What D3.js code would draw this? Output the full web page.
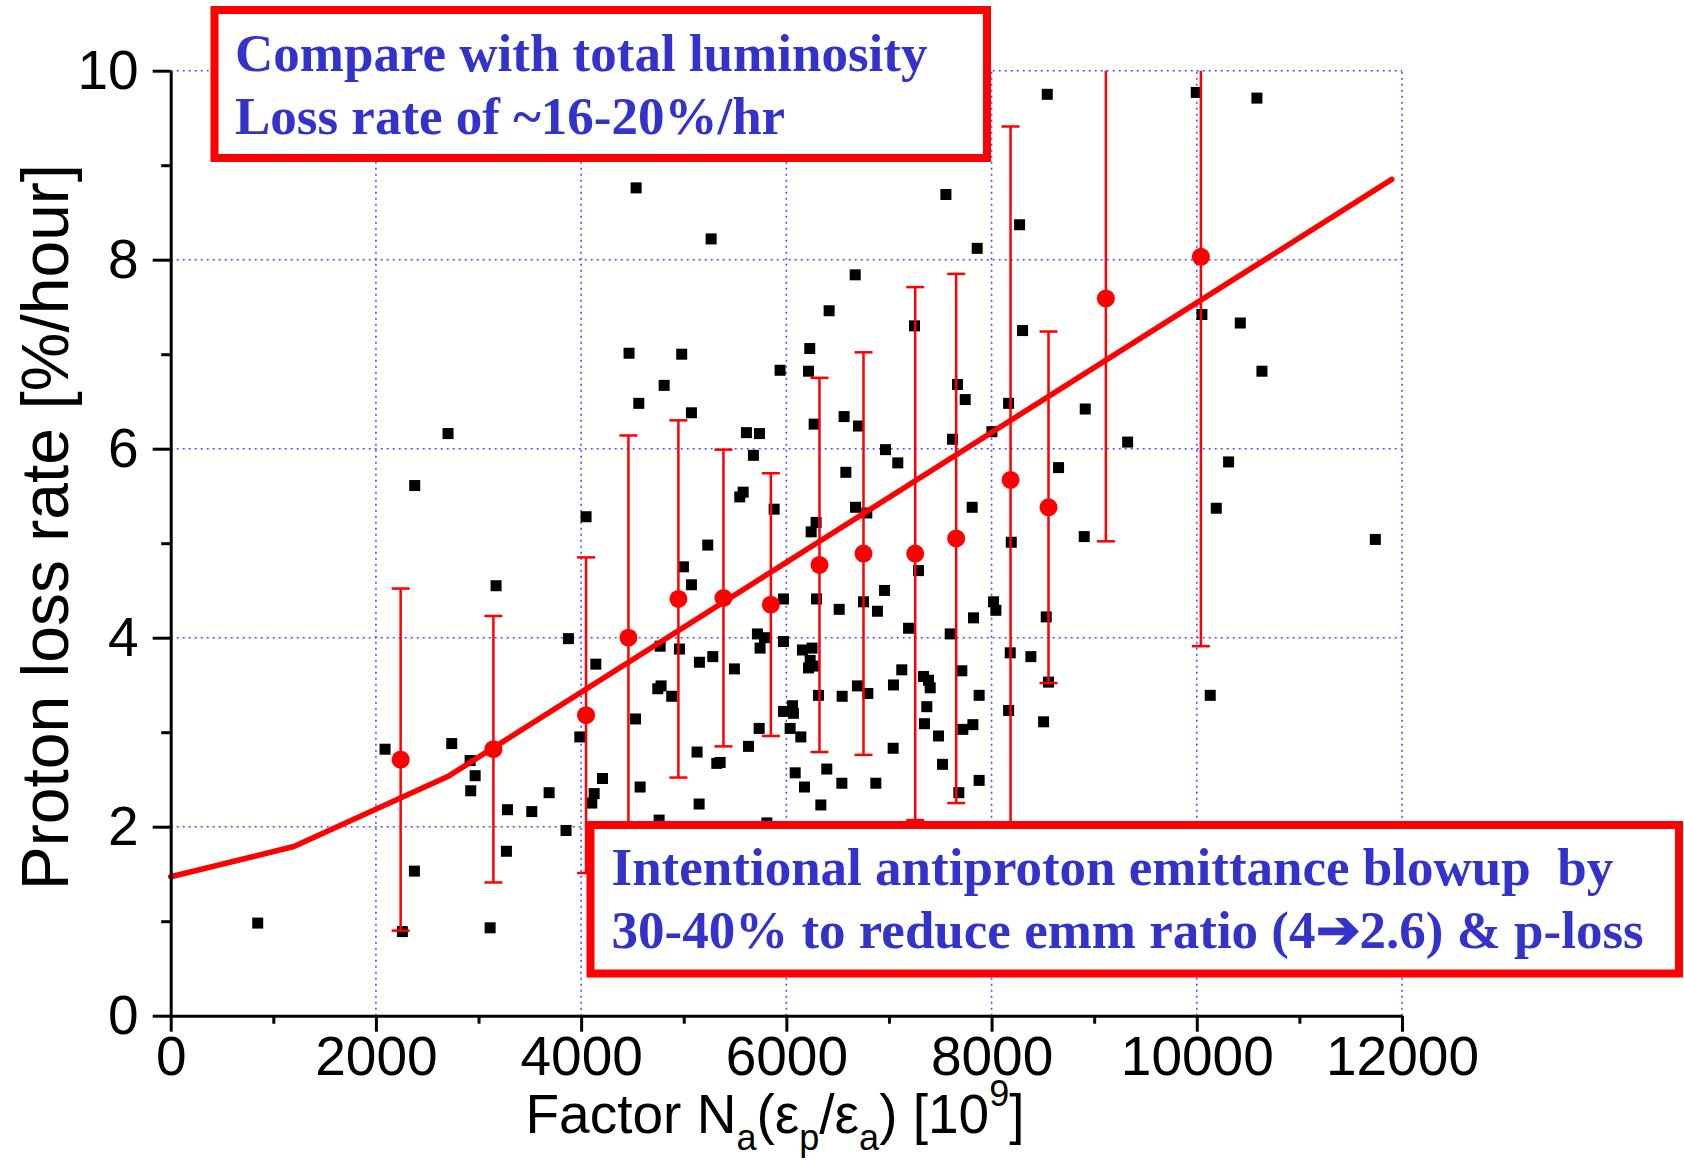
<!DOCTYPE html>
<html>
<head>
<meta charset="utf-8">
<script src="https://cdn.jsdelivr.net/npm/d3@7"></script>
<style>
  html, body { margin: 0; padding: 0; background: #ffffff; }
  svg { display: block; }
</style>
</head>
<body>
<svg id="chart" width="1684" height="1162"></svg>
<script>
// Individual stores: factor N_a(eps_p/eps_a) [1e9] and proton loss rate [%/hour]
const scatterX = [
  848, 2089, 2258, 2375, 2378, 2703, 2739, 2918, 2967, 2924, 3113, 3171, 3272, 3282, 3519, 3688, 3853, 3876, 3987, 4048, 4104, 4127, 4143, 4208,
  6417, 7249, 4467, 4980, 6228, 5939, 6216, 4809, 4562, 5075, 7668, 7743, 6271, 6563, 6703, 5611, 5738, 5679, 7619, 6966, 7086, 6580, 8003,
  5546, 5579, 5881, 6674, 6784, 6290, 6242, 7811, 5234, 4997, 5075, 7288, 6957, 5972, 6294, 6752, 6515, 6888, 8019, 8042, 7824, 7191, 7597,
  5718, 5787, 4770, 4958, 5744, 5972, 6157, 6251, 5153, 5283, 5494, 6232, 6216, 6264, 7125, 7337, 7385, 7402, 7710, 7044, 6693, 6794,
  4747, 4779, 4883, 6313, 6544, 7879,
  4530, 5972, 6060, 6069, 7369, 5735, 6037, 6141, 7346, 7818, 7720, 7483, 7041, 5130, 5322, 5355, 5631, 7522, 6086, 6394, 4575, 6177,
  6541, 6872, 7879, 5150, 6336, 7681, 4760, 5810,
  8166, 8913, 9326, 10310, 8653, 10190, 11740, 8903, 8192, 8533, 8182, 8383, 8555, 8166, 8507, 10131,
  8543, 9995, 10586, 8273, 7860, 7555, 10050, 10424, 10635, 8302, 4536, 5267, 6671
];
const scatterY = [
  0.98, 2.82, 0.89, 1.53, 5.61, 6.16, 2.88, 2.70, 2.54, 2.38, 0.93, 4.55, 1.74, 2.18, 2.16, 2.36, 1.96, 3.99, 2.95, 5.28, 2.25, 2.35, 3.72, 2.51,
  7.46, 7.30, 7.01, 7.00, 7.06, 6.83, 6.82, 6.67, 6.48, 6.38, 6.68, 6.52, 6.26, 6.34, 6.24, 6.17, 6.16, 5.93, 6.10, 5.99, 5.85, 5.75, 6.18,
  5.49, 5.54, 5.36, 5.38, 5.32, 5.22, 5.12, 5.38, 4.98, 4.75, 4.56, 4.71, 4.50, 4.41, 4.41, 4.38, 4.30, 4.28, 4.38, 4.29, 4.21, 4.10, 4.04,
  4.04, 4.00, 3.91, 3.88, 3.89, 3.96, 3.87, 3.89, 3.74, 3.80, 3.67, 3.76, 3.68, 3.70, 3.66, 3.59, 3.55, 3.47, 3.65, 3.50, 3.49, 3.41,
  3.46, 3.49, 3.38, 3.39, 3.38, 3.39,
  3.14, 3.22, 3.28, 3.20, 3.27, 3.04, 3.04, 2.95, 3.09, 3.08, 3.03, 2.96, 2.83, 2.79, 2.67, 2.68, 2.85, 2.66, 2.57, 2.61, 2.42, 2.42,
  2.46, 2.46, 2.49, 2.24, 2.23, 2.36, 2.07, 2.04,
  6.48, 6.42, 6.07, 5.86, 5.80, 5.37, 5.04, 5.07, 5.01, 4.22, 3.84, 3.80, 3.53, 3.23, 3.11, 3.39,
  9.75, 9.77, 9.71, 8.37, 8.12, 8.69, 7.42, 7.33, 6.82, 7.25, 8.76, 8.22, 7.84
];

// Binned averages with symmetric error bars
const binX    = [2241, 3145, 4048, 4461, 4948, 5387, 5849, 6323, 6752, 7256, 7655, 8185, 8555, 9114, 10040];
const binMean = [2.71, 2.82, 3.18, 4.00, 4.41, 4.42, 4.35, 4.77, 4.89, 4.89, 5.05, 5.67, 5.38, 7.59, 8.03];
const binErr  = [1.81, 1.41, 1.67, 2.14, 1.89, 1.57, 1.39, 1.98, 2.13, 2.82, 2.80, 3.74, 1.86, 2.57, 4.12];

// Fitted curve
const fitX = [0, 1200, 2700, 11900];
const fitY = [1.47, 1.79, 2.53, 8.85];

const xTicks = [0, 2000, 4000, 6000, 8000, 10000, 12000];
const xMinor = [1000, 3000, 5000, 7000, 9000, 11000];
const yTicks = [0, 2, 4, 6, 8, 10];
const yMinor = [1, 3, 5, 7, 9];

const yTitle = "Proton loss rate [%/hour]";
const noteTop = ["Compare with total luminosity", "Loss rate of ~16-20%/hr"];
const noteBottom = ["Intentional antiproton emittance blowup  by", "30-40% to reduce emm ratio (4\u27942.6) & p-loss"];

const W = 1684, H = 1162;
const margin = { left: 170.7, top: 70.7, right: W - 1402, bottom: H - 1015.7 };
const iw = W - margin.left - margin.right;
const ih = H - margin.top - margin.bottom;

const sansFont = "'Liberation Sans', Arial, Helvetica, sans-serif";
const serifFont = "'Liberation Serif', 'Times New Roman', Times, serif";
const red = "#ff0000";
const gridBlue = "#4d4dff";
const noteBlue = "#3333cc";

const svg = d3.select("#chart");
svg.append("rect").attr("width", W).attr("height", H).attr("fill", "#fff");

const x = d3.scaleLinear().domain([0, 12000]).range([0, iw]);
const y = d3.scaleLinear().domain([0, 10]).range([ih, 0]);

const g = svg.append("g").attr("transform", `translate(${margin.left},${margin.top})`);

svg.append("defs").append("clipPath").attr("id", "plotClip")
  .append("rect").attr("x", -30).attr("y", 0).attr("width", iw + 60).attr("height", ih + 30);

// Dotted grid
const grid = g.append("g").attr("stroke", gridBlue).attr("stroke-width", 1.6)
  .attr("stroke-dasharray", "2,4").attr("fill", "none");
grid.selectAll("line.gx").data(xTicks.filter(d => d > 0)).join("line")
  .attr("class", "gx")
  .attr("x1", d => x(d)).attr("x2", d => x(d)).attr("y1", y(0)).attr("y2", y(10));
grid.selectAll("line.gy").data(yTicks.filter(d => d > 0)).join("line")
  .attr("class", "gy")
  .attr("x1", x(0)).attr("x2", x(12000)).attr("y1", d => y(d)).attr("y2", d => y(d));

const plot = g.append("g").attr("clip-path", "url(#plotClip)");

// Individual points
const sq = 11;
plot.append("g").selectAll("rect").data(scatterX.map((d, i) => [d, scatterY[i]])).join("rect")
  .attr("x", d => x(d[0]) - sq / 2).attr("y", d => y(d[1]) - sq / 2)
  .attr("width", sq).attr("height", sq).attr("fill", "#000");

// Fit curve
plot.append("path")
  .datum(fitX.map((d, i) => [d, fitY[i]]))
  .attr("d", d3.line().x(d => x(d[0])).y(d => y(d[1])))
  .attr("fill", "none").attr("stroke", red).attr("stroke-width", 5.5)
  .attr("stroke-linejoin", "round").attr("stroke-linecap", "round");

// Error bars
const bins = binX.map((d, i) => ({ x: binX[i], m: binMean[i], e: binErr[i] }));
const eb = plot.append("g").attr("stroke", red).attr("stroke-width", 2.5);
const capW = 9;
eb.selectAll("line.v").data(bins).join("line").attr("class", "v")
  .attr("x1", d => x(d.x)).attr("x2", d => x(d.x))
  .attr("y1", d => y(d.m - d.e)).attr("y2", d => y(d.m + d.e));
eb.selectAll("line.t").data(bins).join("line").attr("class", "t")
  .attr("x1", d => x(d.x) - capW).attr("x2", d => x(d.x) + capW)
  .attr("y1", d => y(d.m + d.e)).attr("y2", d => y(d.m + d.e));
eb.selectAll("line.b").data(bins).join("line").attr("class", "b")
  .attr("x1", d => x(d.x) - capW).attr("x2", d => x(d.x) + capW)
  .attr("y1", d => y(d.m - d.e)).attr("y2", d => y(d.m - d.e));
plot.append("g").selectAll("circle").data(bins).join("circle")
  .attr("cx", d => x(d.x)).attr("cy", d => y(d.m)).attr("r", 9).attr("fill", red);

// Axes
function styleAxis(sel) {
  sel.select(".domain").attr("stroke", "#000").attr("stroke-width", 3);
  sel.selectAll(".tick line").attr("stroke", "#000").attr("stroke-width", 3);
  sel.selectAll(".tick text").attr("fill", "#000")
    .style("font-family", sansFont).style("font-size", "55px");
}
const xAxis = g.append("g").attr("transform", `translate(0,${ih})`)
  .call(d3.axisBottom(x).tickValues(xTicks).tickFormat(d3.format("d")).tickSize(16).tickSizeOuter(0).tickPadding(4));
styleAxis(xAxis);
const xMin = g.append("g").attr("transform", `translate(0,${ih})`)
  .call(d3.axisBottom(x).tickValues(xMinor).tickFormat("").tickSize(8).tickSizeOuter(0));
xMin.select(".domain").remove();
xMin.selectAll(".tick line").attr("stroke", "#000").attr("stroke-width", 3);

const yAxis = g.append("g")
  .call(d3.axisLeft(y).tickValues(yTicks).tickFormat(d3.format("d")).tickSize(18).tickSizeOuter(0).tickPadding(14));
styleAxis(yAxis);
const yMin = g.append("g")
  .call(d3.axisLeft(y).tickValues(yMinor).tickFormat("").tickSize(9.5).tickSizeOuter(0));
yMin.select(".domain").remove();
yMin.selectAll(".tick line").attr("stroke", "#000").attr("stroke-width", 3);

// Axis titles
svg.append("text")
  .attr("transform", "translate(68,527) rotate(-90)")
  .attr("text-anchor", "middle")
  .style("font-family", sansFont).style("font-size", "66px").attr("fill", "#000")
  .text(yTitle);

const xt = svg.append("text")
  .attr("x", 775).attr("y", 1133).attr("text-anchor", "middle")
  .style("font-family", sansFont).style("font-size", "55px").attr("fill", "#000");
const subShift = 17, supShift = 27;
xt.append("tspan").text("Factor N");
xt.append("tspan").attr("dy", subShift).style("font-size", "36px").text("a");
xt.append("tspan").attr("dy", -subShift).text("(\u03b5");
xt.append("tspan").attr("dy", subShift).style("font-size", "36px").text("p");
xt.append("tspan").attr("dy", -subShift).text("/\u03b5");
xt.append("tspan").attr("dy", subShift).style("font-size", "36px").text("a");
xt.append("tspan").attr("dy", -subShift).text(") [10");
xt.append("tspan").attr("dy", -supShift).style("font-size", "36px").text("9");
xt.append("tspan").attr("dy", supShift).text("]");

// Annotation boxes
function noteBox(x0, y0, x1, y1, lines, tx, baselines) {
  svg.append("rect").attr("x", x0).attr("y", y0).attr("width", x1 - x0).attr("height", y1 - y0)
    .attr("fill", "#fff").attr("stroke", red).attr("stroke-width", 8);
  svg.append("g").selectAll("text").data(lines).join("text")
    .attr("x", tx).attr("y", (d, i) => baselines[i])
    .style("font-family", serifFont).style("font-weight", "bold").style("font-size", "53px")
    .style("white-space", "pre")
    .attr("fill", noteBlue)
    .text(d => d);
}
noteBox(214.5, 10, 987, 158, noteTop, 235, [70.7, 134.3]);
noteBox(590.5, 825, 1679, 973.5, noteBottom, 611.5, [885, 948]);
</script>
</body>
</html>
